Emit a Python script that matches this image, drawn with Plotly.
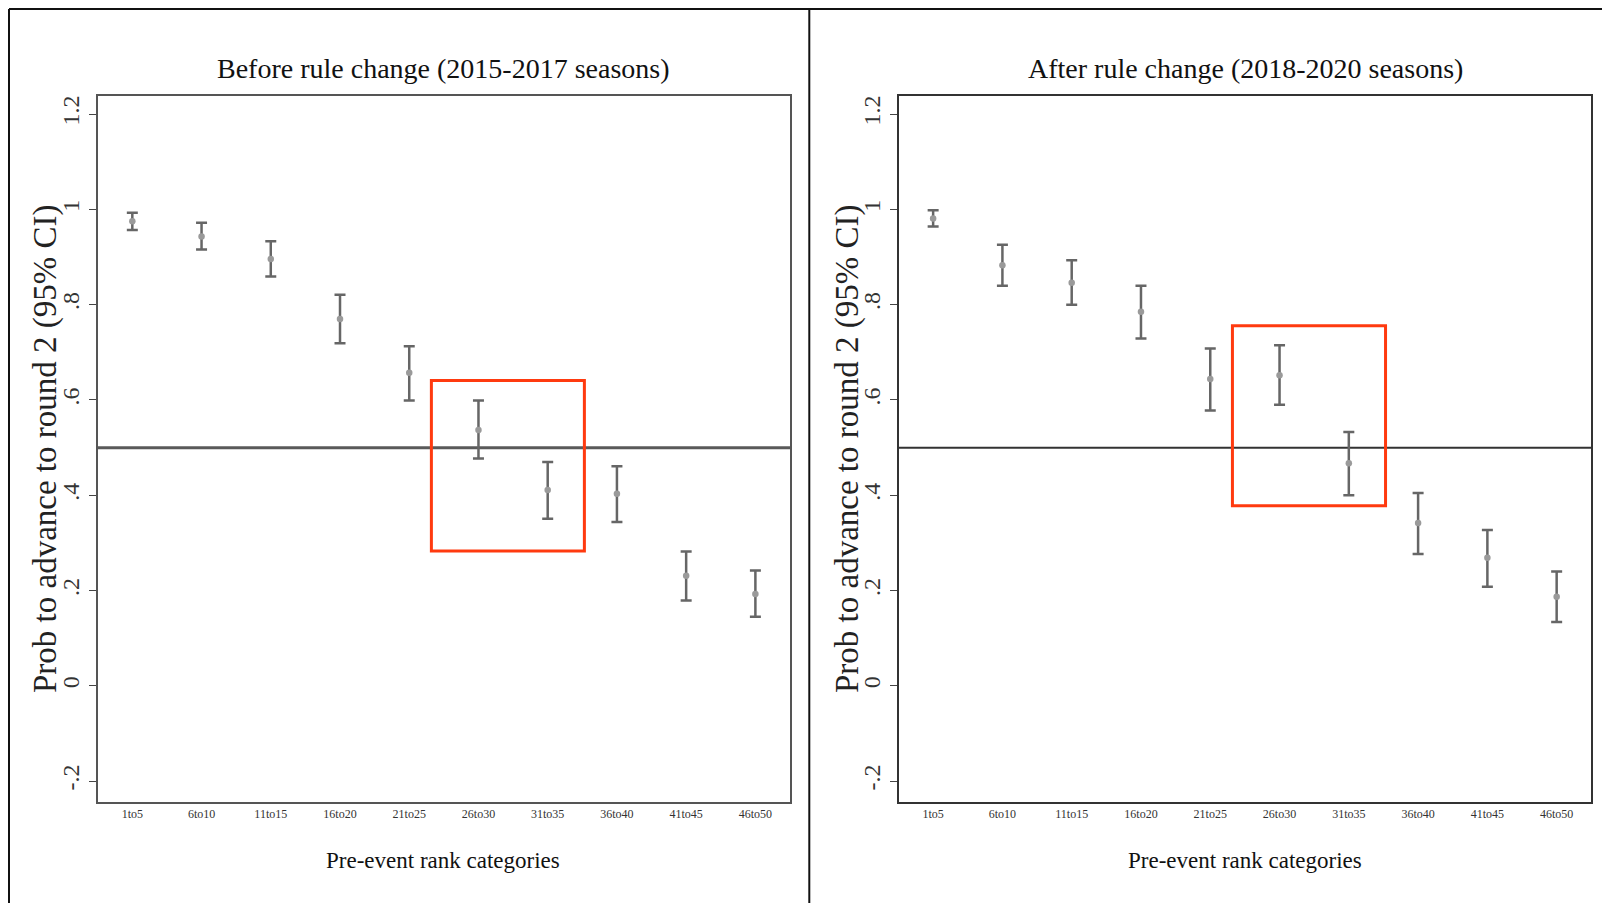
import plotly.graph_objects as go

# ---- data ----
categories = ["1to5", "6to10", "11to15", "16to20", "21to25",
              "26to30", "31to35", "36to40", "41to45", "46to50"]

before_est = [0.975, 0.943, 0.896, 0.770, 0.657, 0.537, 0.411, 0.403, 0.231, 0.193]
before_lo = [0.957, 0.916, 0.859, 0.719, 0.599, 0.477, 0.351, 0.344, 0.179, 0.145]
before_hi = [0.993, 0.972, 0.933, 0.821, 0.713, 0.599, 0.470, 0.461, 0.282, 0.242]

after_est = [0.981, 0.883, 0.846, 0.785, 0.644, 0.652, 0.467, 0.342, 0.269, 0.187]
after_lo = [0.964, 0.840, 0.800, 0.729, 0.578, 0.590, 0.400, 0.277, 0.208, 0.134]
after_hi = [0.998, 0.926, 0.893, 0.840, 0.708, 0.715, 0.533, 0.405, 0.327, 0.240]

ytick_vals = [-0.2, 0, 0.2, 0.4, 0.6, 0.8, 1.0, 1.2]
ytick_text = ["-.2", "0", ".2", ".4", ".6", ".8", "1", "1.2"]

reference_level = 0.5
highlight_cats = ["26to30", "31to35"]
before_box_y = [0.283, 0.641]
after_box_y = [0.378, 0.756]

titles = ["Before rule change (2015-2017 seasons)", "After rule change (2018-2020 seasons)"]
y_title = "Prob to advance to round 2 (95% CI)"
x_title = "Pre-event rank categories"

# ---- layout helpers ----
OFF = 8  # page body margin
W, H = 1610 - 2 * OFF, 911 - 2 * OFF
FONT = "Liberation Serif"


def px(x):
    return (x - OFF) / W


def py(y):
    return 1 - (y - OFF) / H


fig = go.Figure()

panels = [
    (before_est, before_lo, before_hi, "x", "y", before_box_y, "#5a5a5a", 3),
    (after_est, after_lo, after_hi, "x2", "y2", after_box_y, "#333333", 2),
]

for est, lo, hi, xa, ya, box_y, hcol, hw in panels:
    plus = [h - e for h, e in zip(hi, est)]
    minus = [e - l for e, l in zip(est, lo)]
    fig.add_trace(go.Scatter(
        x=categories, y=est, mode="markers", xaxis=xa, yaxis=ya,
        marker=dict(color="#9a9a9a", size=6.5),
        error_y=dict(type="data", symmetric=False, array=plus, arrayminus=minus,
                     color="#666666", thickness=2.5, width=5.5),
        showlegend=False, hoverinfo="skip",
    ))
    # reference line
    fig.add_shape(type="line", xref=f"{xa} domain", yref=ya, x0=0, x1=1,
                  y0=reference_level, y1=reference_level,
                  line=dict(color=hcol, width=hw), layer="below")
    # highlight box
    i0 = categories.index(highlight_cats[0])
    i1 = categories.index(highlight_cats[1])
    fig.add_shape(type="rect", xref=xa, yref=ya, x0=i0 - 0.68, x1=i1 + 0.53,
                  y0=box_y[0], y1=box_y[1],
                  line=dict(color="#FF3A0F", width=3), fillcolor="rgba(0,0,0,0)")

axis_common_x = dict(
    type="category", range=[-0.5, 9.5], showgrid=False, zeroline=False,
    showline=True, mirror=True, ticks="",
    tickfont=dict(family=FONT, size=12, color="#333333"),
)
axis_common_y = dict(
    range=[-0.2426, 1.239], showgrid=False, zeroline=False,
    showline=True, mirror=True, ticks="outside", ticklen=7, tickwidth=1.3,
    tickcolor="#444444", tickvals=ytick_vals, ticktext=ytick_text, tickangle=-90,
    tickfont=dict(family=FONT, size=24, color="#333333"),
)

ydom = [py(801.5), py(95.5)]
fig.update_layout(
    width=W, height=H, margin=dict(l=0, r=0, t=0, b=0),
    paper_bgcolor="white", plot_bgcolor="white",
    xaxis=dict(domain=[px(97.7), px(790.0)], anchor="y", linecolor="#555555", linewidth=1.5, **axis_common_x),
    yaxis=dict(domain=ydom, anchor="x", linecolor="#555555", linewidth=1.5, **axis_common_y),
    xaxis2=dict(domain=[px(898.5), px(1591.3)], anchor="y2", linecolor="#333333", linewidth=1.5, **axis_common_x),
    yaxis2=dict(domain=ydom, anchor="x2", linecolor="#333333", linewidth=1.5, **axis_common_y),
)

# texts
annotations = []
for (t, cx, ycx) in [(titles[0], 443, 45.5), (titles[1], 1245, 847.5)]:
    annotations.append(dict(text=t, x=px(cx), y=py(68.5), xref="paper", yref="paper",
                            showarrow=False, xanchor="center", yanchor="middle",
                            font=dict(family=FONT, size=28, color="#111111")))
    annotations.append(dict(text=x_title, x=px(cx), y=py(860), xref="paper", yref="paper",
                            showarrow=False, xanchor="center", yanchor="middle",
                            font=dict(family=FONT, size=23, color="#111111")))
    annotations.append(dict(text=y_title, x=px(ycx), y=py(449.5), xref="paper", yref="paper",
                            showarrow=False, xanchor="center", yanchor="middle", textangle=-90,
                            font=dict(family=FONT, size=33, color="#222222")))
fig.update_layout(annotations=annotations)

# outer frame lines
frame = dict(color="#111111", width=2)
top = 1 - 1 / H
left = 1 / W
fig.add_shape(type="line", xref="paper", yref="paper", x0=left, x1=1, y0=top, y1=top, line=frame)
fig.add_shape(type="line", xref="paper", yref="paper", x0=left, x1=left, y0=top, y1=0, line=frame)
fig.add_shape(type="line", xref="paper", yref="paper", x0=px(809.3), x1=px(809.3), y0=top, y1=0, line=frame)

fig.write_html("out.html")
